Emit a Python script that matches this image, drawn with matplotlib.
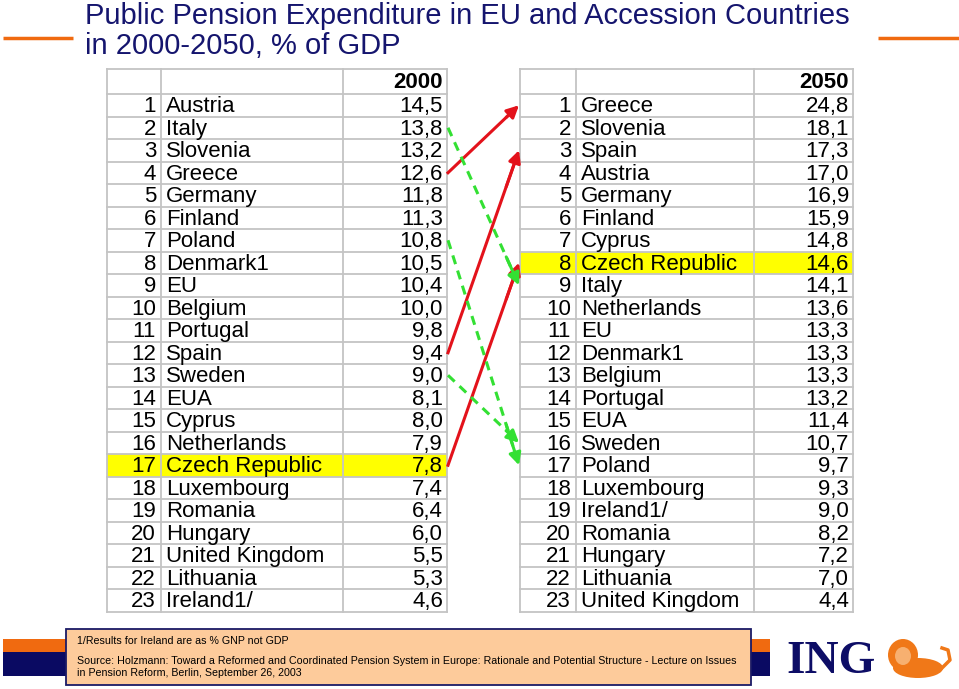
import matplotlib.pyplot as plt
from matplotlib.patches import Rectangle, Ellipse

plt.rcParams['font.family'] = ['Liberation Sans', 'DejaVu Sans']

# Data
countries_2000 = ["Austria", "Italy", "Slovenia", "Greece", "Germany", "Finland", "Poland",
                  "Denmark1", "EU", "Belgium", "Portugal", "Spain", "Sweden", "EUA", "Cyprus",
                  "Netherlands", "Czech Republic", "Luxembourg", "Romania", "Hungary",
                  "United Kingdom", "Lithuania", "Ireland1/"]
values_2000 = [14.5, 13.8, 13.2, 12.6, 11.8, 11.3, 10.8, 10.5, 10.4, 10.0, 9.8, 9.4, 9.0,
               8.1, 8.0, 7.9, 7.8, 7.4, 6.4, 6.0, 5.5, 5.3, 4.6]

countries_2050 = ["Greece", "Slovenia", "Spain", "Austria", "Germany", "Finland", "Cyprus",
                  "Czech Republic", "Italy", "Netherlands", "EU", "Denmark1", "Belgium",
                  "Portugal", "EUA", "Sweden", "Poland", "Luxembourg", "Ireland1/", "Romania",
                  "Hungary", "Lithuania", "United Kingdom"]
values_2050 = [24.8, 18.1, 17.3, 17.0, 16.9, 15.9, 14.8, 14.6, 14.1, 13.6, 13.3, 13.3, 13.3,
               13.2, 11.4, 10.7, 9.7, 9.3, 9.0, 8.2, 7.2, 7.0, 4.4]

highlight = "Czech Republic"
risers = ["Greece", "Spain", "Czech Republic"]
fallers = ["Italy", "Poland", "Sweden"]

title = "Public Pension Expenditure in EU and Accession Countries\nin 2000-2050, % of GDP"
note1 = "1/Results for Ireland are as % GNP not GDP"
note2 = ("Source: Holzmann: Toward a Reformed and Coordinated Pension System in Europe: "
         "Rationale and Potential Structure - Lecture on Issues\n"
         "in Pension Reform, Berlin, September 26, 2003")

navy = '#15156e'
orange = '#f06a10'
grid = '#c4c4c4'

fig = plt.figure(figsize=(9.59, 6.89), dpi=100)
ax = fig.add_axes([0, 0, 1, 1])
ax.set_xlim(0, 959)
ax.set_ylim(689, 0)
ax.axis('off')

# Title and orange rules
ax.text(85, 31, title, color=navy, fontsize=21, ha='left', va='center', linespacing=1.12)
ax.plot([3, 73], [38, 38], color=orange, lw=2.5, solid_capstyle='butt')
ax.plot([878, 959], [38, 38], color=orange, lw=2.5, solid_capstyle='butt')

top = 69
head_h = 25
row_h = 22.5
fs = 16


def row_top(i):
    return top + head_h + i * row_h


def row_mid(i):
    return row_top(i) + row_h / 2


def fmt(v):
    return f"{v:.1f}".replace('.', ',')


def draw_table(cols, year, names, vals):
    n = len(names)
    bottom = row_top(n)
    for i, name in enumerate(names):
        if name == highlight:
            ax.add_patch(Rectangle((cols[0], row_top(i)), cols[3] - cols[0], row_h,
                                   facecolor='#ffff00', edgecolor='none', zorder=1))
    for y in [top] + [row_top(k) for k in range(n + 1)]:
        ax.plot([cols[0], cols[3]], [y, y], color=grid, lw=1.3, zorder=2)
    for x in cols:
        ax.plot([x, x], [top, bottom], color=grid, lw=1.3, zorder=2)
    ax.text(cols[3] - 4, top + head_h / 2 + 7, year, fontsize=fs, fontweight='bold',
            ha='right', va='baseline', zorder=3)
    for i, (name, v) in enumerate(zip(names, vals)):
        yb = row_mid(i) + 7
        ax.text(cols[1] - 5, yb, str(i + 1), fontsize=fs, ha='right', va='baseline', zorder=3)
        ax.text(cols[1] + 5, yb, name, fontsize=fs, ha='left', va='baseline', zorder=3)
        ax.text(cols[3] - 4, yb, fmt(v), fontsize=fs, ha='right', va='baseline', zorder=3)


left_cols = [107, 161, 343, 447]
right_cols = [520, 576, 754, 853]
draw_table(left_cols, "2000", countries_2000, values_2000)
draw_table(right_cols, "2050", countries_2050, values_2050)

# Rank-change arrows
x0, x1 = left_cols[3] + 1, right_cols[0] - 1
for group, color, ls in [(risers, '#e3121b', '-'), (fallers, '#33e033', (0, (3, 2.2)))]:
    for c in group:
        ya = row_mid(countries_2000.index(c))
        yb = row_mid(countries_2050.index(c))
        ax.plot([x0, x1 - 4], [ya, ya + (yb - ya) * (x1 - 4 - x0) / (x1 - x0)],
                color=color, lw=2.2, linestyle=ls, zorder=4)
        t = 0.82
        ax.annotate('', xy=(x1, yb), xytext=(x0 + (x1 - x0) * t, ya + (yb - ya) * t),
                    arrowprops=dict(arrowstyle='-|>', color=color, lw=2.2,
                                    mutation_scale=18, shrinkA=0, shrinkB=0), zorder=5)

# Bottom band and footnote box
ax.add_patch(Rectangle((3, 639), 767, 13, facecolor=orange, edgecolor='none', zorder=1))
ax.add_patch(Rectangle((3, 652), 767, 24, facecolor='#0a0a62', edgecolor='none', zorder=1))
ax.add_patch(Rectangle((66, 629), 685, 56, facecolor='#fdcb9b', edgecolor='#1a1a66',
                       lw=1.3, zorder=2))
ax.text(77, 641, note1, fontsize=7.7, ha='left', va='center', zorder=3)
ax.text(77, 667, note2, fontsize=7.7, ha='left', va='center', linespacing=1.25, zorder=3)

# ING logo
ax.text(786, 662, "ING", fontsize=34, fontweight='bold', family='Liberation Serif',
        color='#0d0d66', ha='left', va='center')
lion = '#f07818'
ax.add_patch(Ellipse((918, 668), 50, 20, facecolor=lion, edgecolor='none'))
ax.add_patch(Ellipse((903, 655), 30, 32, facecolor=lion, edgecolor='none'))
ax.add_patch(Ellipse((903, 656), 16, 18, facecolor='#f7b070', edgecolor='none'))
ax.plot([940, 950, 948, 942], [670, 660, 650, 648], color=lion, lw=2.5)

fig.savefig('out.png', dpi=100)
